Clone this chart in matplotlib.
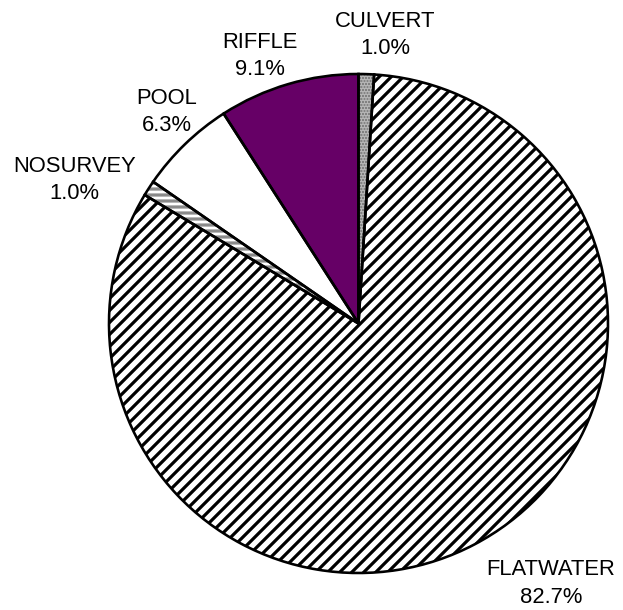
import matplotlib
matplotlib.use("Agg")
import matplotlib.pyplot as plt

plt.rcParams["font.family"] = ["Liberation Sans", "DejaVu Sans"]
plt.rcParams["hatch.linewidth"] = 3.2

# Habitat composition of the surveyed reach (percent of length)
categories = ["CULVERT", "FLATWATER", "NOSURVEY", "POOL", "RIFFLE"]
percents = [1.0, 82.7, 1.0, 6.3, 9.1]
face_colors = ["#7d7d7d", "white", "white", "white", "#660066"]
hatch_colors = ["#b4b4b4", "black", "#8a8a8a", "white", "#660066"]
hatches = ["....", "//", "--", None, None]

# label anchor positions (figure pixels, measured from top-left)
label_xy = [(385, 35), (551, 583.5), (74.5, 180), (167, 112), (260, 56)]

W, H = 623, 610
DPI = 72
fig = plt.figure(figsize=(W / DPI, H / DPI), dpi=DPI)
ax = fig.add_axes([0, 0, 1, 1])

center = (358.5, H - 323.5)
radius = 249.5

# filled + hatched layer
fill_wedges, _ = ax.pie(percents, startangle=90, counterclock=False,
                        center=center, radius=radius, frame=True,
                        colors=face_colors)
for w, hc, h in zip(fill_wedges, hatch_colors, hatches):
    w.set_edgecolor(hc)
    w.set_linewidth(0)
    if h:
        w.set_hatch(h)

# black outlines on top
outline_wedges, _ = ax.pie(percents, startangle=90, counterclock=False,
                           center=center, radius=radius, frame=True,
                           wedgeprops=dict(fill=False, edgecolor="black",
                                           linewidth=2.6))
ax.set_xlim(0, W)
ax.set_ylim(0, H)
ax.set_aspect("equal")
ax.axis("off")

for name, pct, (x, y) in zip(categories, percents, label_xy):
    ax.text(x, H - y, f"{name}\n{pct:.1f}%", ha="center", va="center",
            fontsize=22, linespacing=1.38, color="black")

fig.savefig("out.png", dpi=DPI, facecolor="white")
